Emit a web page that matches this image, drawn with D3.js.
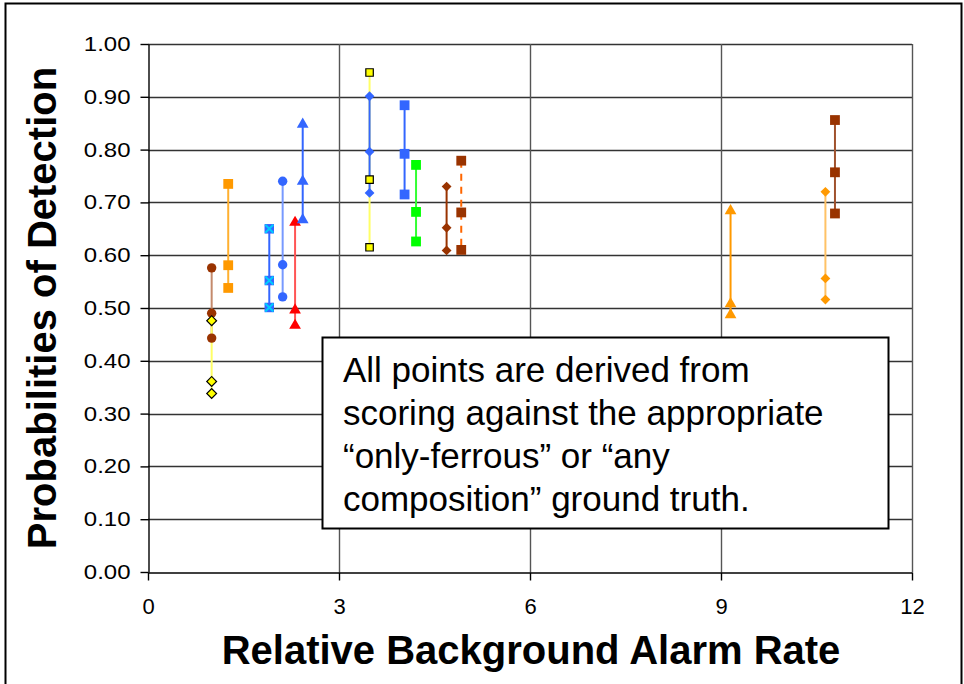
<!DOCTYPE html>
<html>
<head>
<meta charset="utf-8">
<script src="https://d3js.org/d3.v7.min.js"></script>
<style>
  body { margin: 0; background: #fff; }
  svg { display: block; }
</style>
</head>
<body>
<div id="chart"></div>
<script>
// Relative background alarm rate (x) of each measurement group
var groupX = [1.0, 1.0, 1.26, 1.905, 2.115, 2.31, 2.43, 3.48, 3.48, 4.03, 4.21, 4.69, 4.92, 9.15, 10.64, 10.79];

// Probabilities of detection for each group (three points per group)
var groupPd = [
  [0.576, 0.490, 0.443],
  [0.476, 0.361, 0.338],
  [0.735, 0.581, 0.538],
  [0.650, 0.552, 0.501],
  [0.740, 0.582, 0.521],
  [0.662, 0.496, 0.467],
  [0.848, 0.740, 0.667],
  [0.946, 0.743, 0.615],
  [0.901, 0.796, 0.718],
  [0.884, 0.792, 0.715],
  [0.771, 0.682, 0.626],
  [0.730, 0.652, 0.609],
  [0.779, 0.681, 0.610],
  [0.684, 0.508, 0.487],
  [0.720, 0.556, 0.516],
  [0.856, 0.757, 0.679]
];

var xTicks = [0, 3, 6, 9, 12];
var yTicks = [0, 0.1, 0.2, 0.3, 0.4, 0.5, 0.6, 0.7, 0.8, 0.9, 1.0];

var xTitle = "Relative Background Alarm Rate";
var yTitle = "Probabilities of Detection";
var noteLines = [
  "All points are derived from",
  "scoring against the appropriate",
  "\u201conly-ferrous\u201d or \u201cany",
  "composition\u201d ground truth."
];

// marker styles, one per group
var groupShape = ["circle", "diamond", "square", "xsquare", "circle", "triangle", "triangle", "square",
                  "diamond", "square", "square", "diamond", "square", "triangle", "diamond", "square"];
var groupFill = ["#993300", "#ffff00", "#ff9900", "#3366ff", "#3366ff", "#ff0000", "#3366ff", "#ffff00",
                 "#3366ff", "#3366ff", "#00ff00", "#993300", "#993300", "#ff9900", "#ff9900", "#993300"];
var groupOutline = [null, "#000", null, null, null, null, null, "#000",
                    null, null, null, null, null, null, null, null];
var groupLine = ["#c48a6c", "#ffff66", "#ffb030", "#3366ff", "#7799ff", "#ff5555", "#3366ff", "#ffff66",
                 "#3366ff", "#3366ff", "#33ff33", "#993300", "#ff6600", "#ff9900", "#ffc266", "#a0522d"];
var groupDash = [null, null, null, null, null, null, null, null,
                 null, null, null, null, "7,6", null, null, null];

var W = 964, H = 684;
var plot = {left: 148, right: 912, top: 44, bottom: 572};

var svg = d3.select("#chart").append("svg")
  .attr("width", W)
  .attr("height", H);

// outer frame (bottom edge is cut off in the original)
svg.append("path")
  .attr("d", "M5.5," + H + " V3.5 H961.5 V" + H)
  .attr("fill", "none")
  .attr("stroke", "#000")
  .attr("stroke-width", 2);

var xScale = d3.scaleLinear().domain([0, 12]).range([plot.left, plot.right]);
var yScale = d3.scaleLinear().domain([0, 1]).range([plot.bottom, plot.top]);

// grid lines
svg.append("g").selectAll("line")
  .data(yTicks.slice(1))
  .enter().append("line")
  .attr("x1", plot.left).attr("x2", plot.right)
  .attr("y1", function(d) { return Math.round(yScale(d)) + 0.5; })
  .attr("y2", function(d) { return Math.round(yScale(d)) + 0.5; })
  .attr("stroke", "#333")
  .attr("stroke-width", 1.4);

svg.append("g").selectAll("line")
  .data(xTicks.slice(1))
  .enter().append("line")
  .attr("x1", function(d) { return Math.round(xScale(d)) + 0.5; })
  .attr("x2", function(d) { return Math.round(xScale(d)) + 0.5; })
  .attr("y1", plot.top).attr("y2", plot.bottom)
  .attr("stroke", "#555")
  .attr("stroke-width", 1.4);

// axes
var yAxis = svg.append("g")
  .attr("transform", "translate(" + (plot.left + 0.5) + ",0)")
  .call(d3.axisLeft(yScale).tickValues(yTicks).tickFormat(d3.format(".2f")).tickSize(8).tickSizeOuter(0));
yAxis.selectAll("path, line").attr("stroke", "#000").attr("stroke-width", 1.4);
yAxis.selectAll("text")
  .attr("x", -18 / 1.2)
  .attr("transform", "scale(1.2,1)")
  .attr("font-family", "Arial, 'Liberation Sans', sans-serif")
  .attr("font-size", 20)
  .attr("fill", "#000");

var xAxis = svg.append("g")
  .attr("transform", "translate(0," + (plot.bottom + 0.5) + ")")
  .call(d3.axisBottom(xScale).tickValues(xTicks).tickSize(8).tickSizeOuter(0));
xAxis.selectAll("path, line").attr("stroke", "#000").attr("stroke-width", 1.4);
xAxis.selectAll("text")
  .attr("y", 26)
  .attr("dy", "0.71em")
  .attr("font-family", "Arial, 'Liberation Sans', sans-serif")
  .attr("font-size", 22)
  .attr("fill", "#000");

// axis titles
svg.append("text")
  .attr("x", (plot.left + plot.right) / 2 + 1)
  .attr("y", 664)
  .attr("text-anchor", "middle")
  .attr("font-family", "Arial, 'Liberation Sans', sans-serif")
  .attr("font-weight", "bold")
  .attr("font-size", 40)
  .text(xTitle);

svg.append("text")
  .attr("transform", "translate(56," + (plot.top + plot.bottom) / 2 + ") rotate(-90)")
  .attr("text-anchor", "middle")
  .attr("font-family", "Arial, 'Liberation Sans', sans-serif")
  .attr("font-weight", "bold")
  .attr("font-size", 40)
  .text(yTitle);

// vertical range lines for each group
var groups = groupX.map(function(x, i) { return {i: i, x: x, pd: groupPd[i]}; });

svg.append("g").selectAll("line")
  .data(groups)
  .enter().append("line")
  .attr("x1", function(d) { return xScale(d.x); })
  .attr("x2", function(d) { return xScale(d.x); })
  .attr("y1", function(d) { return yScale(d3.max(d.pd)); })
  .attr("y2", function(d) { return yScale(d3.min(d.pd)); })
  .attr("stroke", function(d) { return groupLine[d.i]; })
  .attr("stroke-width", 2)
  .attr("stroke-dasharray", function(d) { return groupDash[d.i]; });

// markers
var symbolFor = {
  circle: d3.symbol().type(d3.symbolCircle).size(Math.PI * 4.7 * 4.7),
  square: d3.symbol().type(d3.symbolSquare).size(96),
  xsquare: d3.symbol().type(d3.symbolSquare).size(90),
  triangle: d3.symbol().type(d3.symbolTriangle).size(60),
  diamond: d3.symbol().type(d3.symbolSquare).size(48)
};

var points = [];
groups.forEach(function(g) {
  g.pd.forEach(function(v) { points.push({i: g.i, x: g.x, y: v}); });
});

var marks = svg.append("g").selectAll("g")
  .data(points)
  .enter().append("g")
  .attr("transform", function(d) { return "translate(" + xScale(d.x) + "," + yScale(d.y) + ")"; });

marks.append("path")
  .attr("d", function(d) {
    var shape = groupShape[d.i];
    if (groupOutline[d.i] && shape === "square") return d3.symbol().type(d3.symbolSquare).size(56)();
    return symbolFor[shape]();
  })
  .attr("transform", function(d) { return groupShape[d.i] === "diamond" ? "rotate(45)" : null; })
  .attr("fill", function(d) { return groupFill[d.i]; })
  .attr("stroke", function(d) { return groupOutline[d.i] || "none"; })
  .attr("stroke-width", 1.2);

// cyan cross inside the x-squares
marks.filter(function(d) { return groupShape[d.i] === "xsquare"; })
  .append("path")
  .attr("d", "M-4,-4L4,4M-4,4L4,-4")
  .attr("stroke", "#00ccff")
  .attr("stroke-width", 2);

// note box
var note = svg.append("g");
note.append("rect")
  .attr("x", 322.5).attr("y", 337.5)
  .attr("width", 566).attr("height", 191)
  .attr("fill", "#fff")
  .attr("stroke", "#000")
  .attr("stroke-width", 2);
note.selectAll("text")
  .data(noteLines)
  .enter().append("text")
  .attr("x", 343)
  .attr("y", function(d, i) { return 382 + i * 43; })
  .attr("font-family", "Arial, 'Liberation Sans', sans-serif")
  .attr("font-size", 35)
  .attr("fill", "#000")
  .text(function(d) { return d; });
</script>
</body>
</html>
